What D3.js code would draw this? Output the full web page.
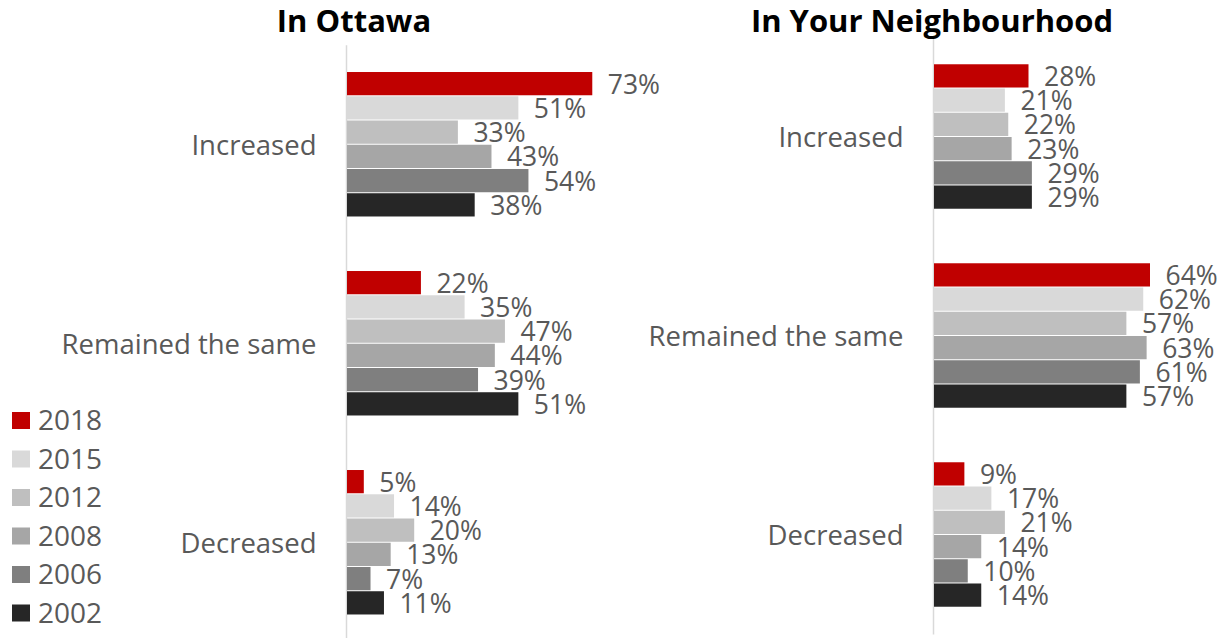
<!DOCTYPE html>
<html>
<head>
<meta charset="utf-8">
<script src="https://cdn.jsdelivr.net/npm/d3@7"></script>
<style>
  html, body { margin: 0; padding: 0; background: #fff; }
  svg { display: block; }
  text { font-family: "Open Sans", "DejaVu Sans", sans-serif; }
</style>
</head>
<body>
<svg id="chart" width="1224" height="638"></svg>
<script>
// Survey categories and years
const categories = ["Increased", "Remained the same", "Decreased"];
const years = ["2018", "2015", "2012", "2008", "2006", "2002"];
const yearColors = ["#C00000", "#D9D9D9", "#BFBFBF", "#A6A6A6", "#7F7F7F", "#262626"];

// Percentages by category, one value per year (2018 → 2002)
const ottawaIncreased = [73, 51, 33, 43, 54, 38];
const ottawaSame      = [22, 35, 47, 44, 39, 51];
const ottawaDecreased = [5, 14, 20, 13, 7, 11];

const hoodIncreased = [28, 21, 22, 23, 29, 29];
const hoodSame      = [64, 62, 57, 63, 61, 57];
const hoodDecreased = [9, 17, 21, 14, 10, 14];

const panelTitles = ["In Ottawa", "In Your Neighbourhood"];

const panels = [
  { title: panelTitles[0], values: [ottawaIncreased, ottawaSame, ottawaDecreased],
    axisX: 346.5, xRange: 336, yTop: 45.25, yBottom: 642.25, titleX: 354 },
  { title: panelTitles[1], values: [hoodIncreased, hoodSame, hoodDecreased],
    axisX: 933.5, xRange: 337.5, yTop: 37.5, yBottom: 634.5, titleX: 932 }
];

const svg = d3.select("#chart");
const labelGrey = "#595959";

panels.forEach(p => {
  const g = svg.append("g");

  const y = d3.scaleBand()
    .domain(categories)
    .range([p.yTop, p.yBottom])
    .paddingInner(0.269)
    .paddingOuter(0.1345);

  const yInner = d3.scaleBand()
    .domain(years)
    .range([0, y.bandwidth()]);

  const x = d3.scaleLinear()
    .domain([0, 100])
    .range([p.axisX, p.axisX + p.xRange]);

  // vertical category axis line
  g.append("line")
    .attr("x1", p.axisX).attr("x2", p.axisX)
    .attr("y1", p.yTop).attr("y2", p.yBottom)
    .attr("stroke", "#D9D9D9")
    .attr("stroke-width", 1.5);

  categories.forEach((cat, ci) => {
    const rows = years.map((yr, i) => ({ year: yr, value: p.values[ci][i], color: yearColors[i] }));
    const cg = g.append("g").attr("transform", `translate(0,${y(cat)})`);

    cg.selectAll("rect")
      .data(rows)
      .join("rect")
      .attr("x", x(0) + 0.5)
      .attr("y", d => yInner(d.year))
      .attr("width", d => x(d.value) - x(0))
      .attr("height", yInner.bandwidth() - 1)
      .attr("fill", d => d.color);

    cg.selectAll("text.val")
      .data(rows)
      .join("text")
      .attr("class", "val")
      .attr("x", d => x(d.value) + 16)
      .attr("y", d => yInner(d.year) + yInner.bandwidth() / 2 + 9.4)
      .attr("font-size", 26.5)
      .attr("fill", labelGrey)
      .text(d => d.value + "%");

    // category label
    g.append("text")
      .attr("x", p.axisX - 30)
      .attr("y", y(cat) + y.bandwidth() / 2 + 9.8)
      .attr("text-anchor", "end")
      .attr("font-size", 27.5)
      .attr("fill", labelGrey)
      .text(cat);
  });

  // panel title
  g.append("text")
    .attr("x", p.titleX)
    .attr("y", 31.5)
    .attr("text-anchor", "middle")
    .attr("font-size", 31)
    .attr("font-weight", "bold")
    .attr("fill", "#000")
    .text(p.title);
});

// legend
const legendY = d3.scalePoint().domain(years).range([420.5, 613]);
const legend = svg.append("g");
years.forEach((yr, i) => {
  legend.append("rect")
    .attr("x", 12).attr("y", legendY(yr) - 8.5)
    .attr("width", 18).attr("height", 17)
    .attr("fill", yearColors[i]);
  legend.append("text")
    .attr("x", 38).attr("y", legendY(yr) + 9.8)
    .attr("font-size", 28)
    .attr("fill", labelGrey)
    .text(yr);
});
</script>
</body>
</html>
